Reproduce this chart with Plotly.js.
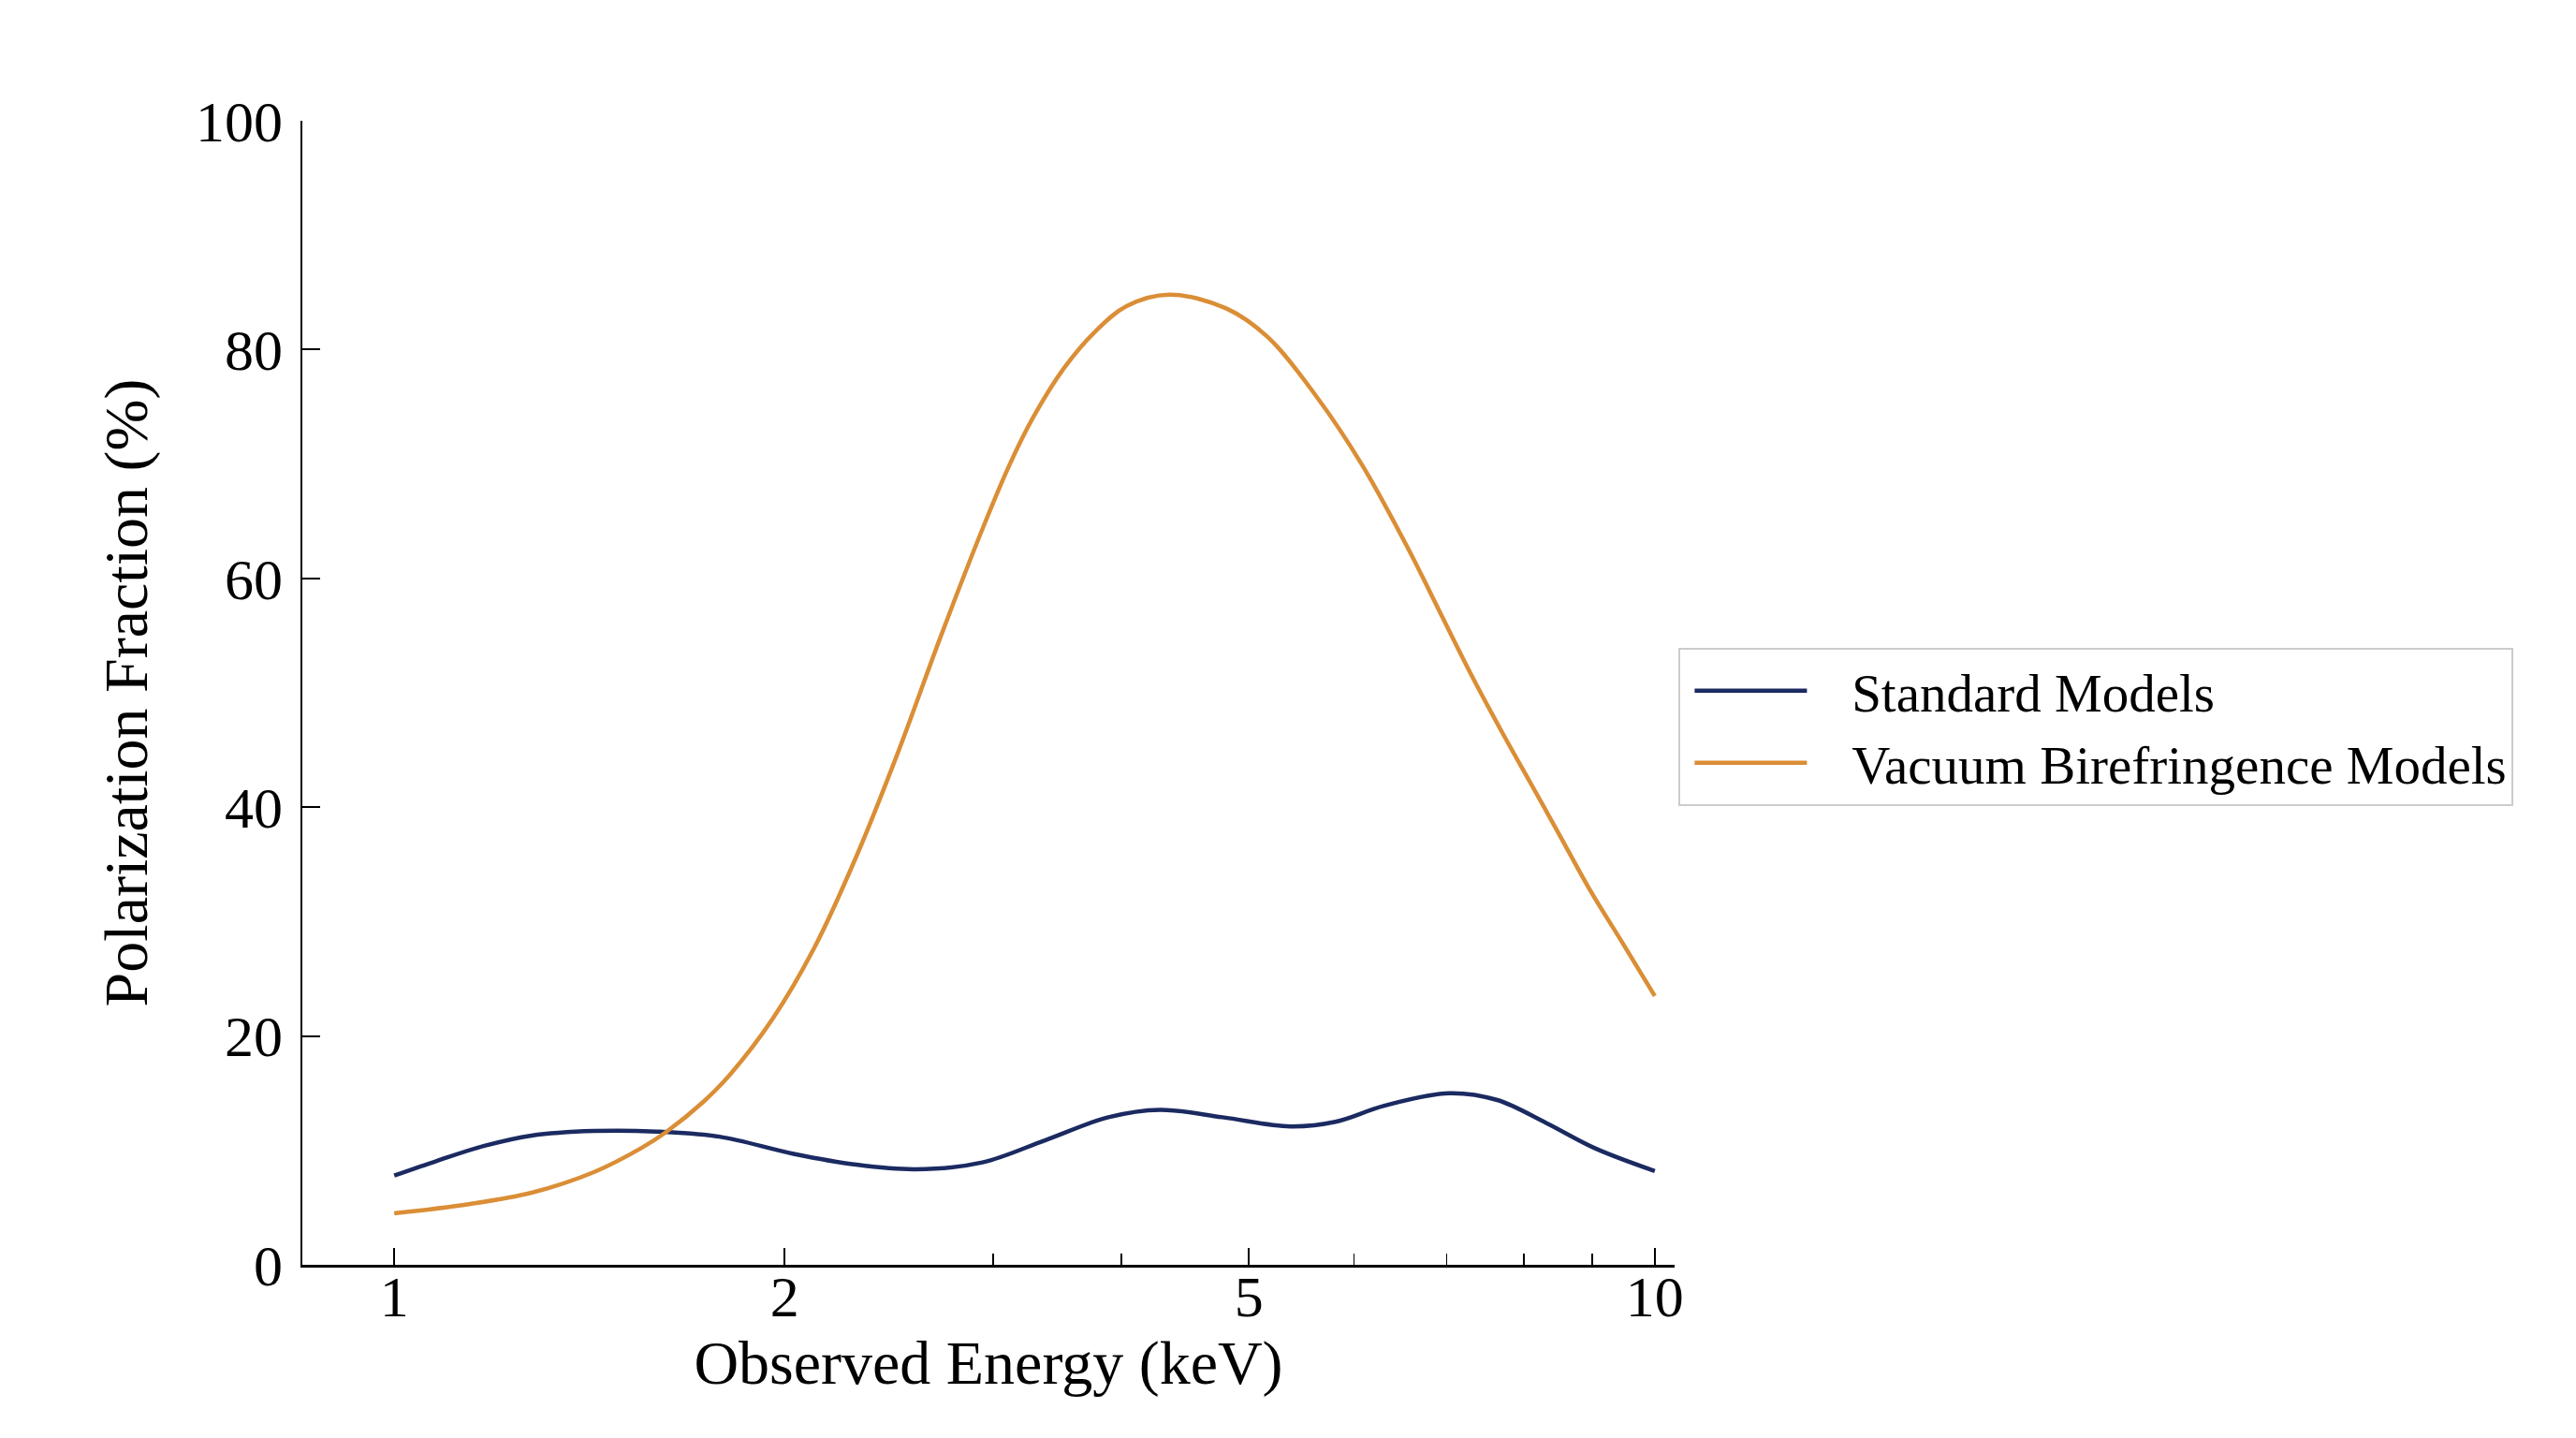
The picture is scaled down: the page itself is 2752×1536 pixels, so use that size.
<!DOCTYPE html>
<html>
<head>
<meta charset="utf-8">
<script src="https://cdn.plot.ly/plotly-3.0.1.min.js"></script>
<style>
  html, body { margin: 0; padding: 0; background: #fff; }
  #chart { width: 2752px; height: 1536px; }
</style>
</head>
<body>
<div id="chart"></div>
<script>
// values (energy in keV, fraction in %)
var stdEnergy = [1.0, 1.082, 1.179, 1.285, 1.44, 1.615, 1.811, 2.074, 2.326, 2.591, 2.928, 3.286, 3.686, 4.05, 4.54, 5.14, 5.58, 6.10, 6.87, 7.50, 8.2, 8.96, 10.0];
var stdFrac   = [7.8, 9.1, 10.4, 11.3, 11.7, 11.65, 11.2, 9.7, 8.75, 8.35, 8.95, 10.9, 12.9, 13.55, 12.9, 12.1, 12.5, 13.9, 15.0, 14.4, 12.4, 10.2, 8.2];

var vbEnergy = [1.0, 1.146, 1.285, 1.44, 1.57, 1.643, 1.761, 1.849, 1.996, 2.156, 2.326, 2.512, 2.713, 2.928, 3.076, 3.21, 3.40, 3.60, 3.81, 4.12, 4.57, 4.93, 5.39, 5.86, 6.38, 6.75, 7.15, 7.57, 7.98, 8.4, 8.89, 9.42, 10.0];
var vbFrac   = [4.5, 5.3, 6.3, 8.1, 10.2, 11.6, 14.3, 16.7, 21.5, 27.8, 35.7, 44.9, 54.9, 64.3, 69.9, 74.0, 78.4, 81.6, 83.8, 84.8, 83.6, 81.1, 75.9, 69.9, 62.5, 57.1, 51.6, 46.5, 42.0, 37.6, 32.7, 28.2, 23.5];

var seriesNames = ['Standard Models', 'Vacuum Birefringence Models'];
var seriesColors = ['#1b2a61', '#da8e36'];

// tick marks sit where the picture has them
var majorTickVals = [1, 2.04, 4.764, 10];
var majorTickText = ['1', '2', '5', '10'];
var minorTickVals = [2.987, 3.773, 5.773, 6.84, 7.87, 8.92];
var yTicks = [0, 20, 40, 60, 80, 100];

var font = 'Liberation Serif, Times New Roman, serif';
var gap = '\u00a0\u00a0\u00a0'; // room between legend line and label

var traces = [
  {
    x: stdEnergy, y: stdFrac, name: gap + seriesNames[0],
    type: 'scatter', mode: 'lines',
    line: {color: seriesColors[0], width: 4.5, shape: 'spline', smoothing: 1}
  },
  {
    x: vbEnergy, y: vbFrac, name: gap + seriesNames[1],
    type: 'scatter', mode: 'lines',
    line: {color: seriesColors[1], width: 4.5, shape: 'spline', smoothing: 1}
  }
];

var layout = {
  width: 2752, height: 1536,
  margin: {l: 323, r: 963, t: 129, b: 185},
  paper_bgcolor: '#fff', plot_bgcolor: '#fff',
  font: {family: font, size: 58, color: '#000'},
  showlegend: true,
  legend: {
    x: 1.003, xanchor: 'left', y: 0.47, yanchor: 'middle',
    bgcolor: '#fff', bordercolor: '#cccccc', borderwidth: 2,
    font: {family: font, size: 57, color: '#000'},
    itemwidth: 120, indentation: 10, tracegroupgap: 0
  },
  xaxis: {
    type: 'log', range: [-0.0729, 1.0157],
    tickmode: 'array', tickvals: majorTickVals, ticktext: majorTickText,
    ticks: 'inside', ticklen: 18, tickwidth: 2, tickcolor: '#000',
    minor: {tickmode: 'array', tickvals: minorTickVals, ticks: 'inside', ticklen: 12, tickwidth: 1.5, tickcolor: '#000'},
    showline: true, linecolor: '#000', linewidth: 2.5,
    showgrid: false, zeroline: false,
    tickfont: {family: font, size: 62},
    ticklabelstandoff: -22,
    title: {text: 'Observed Energy (keV)', font: {family: font, size: 66}, standoff: 2}
  },
  yaxis: {
    range: [0, 100],
    tickmode: 'array', tickvals: yTicks,
    ticks: 'inside', ticklen: 19, tickwidth: 2, tickcolor: '#000',
    showline: true, linecolor: '#000', linewidth: 2.5,
    showgrid: false, zeroline: false,
    tickfont: {family: font, size: 62},
    ticklabelstandoff: 6,
    title: {text: 'Polarization Fraction (%)', font: {family: font, size: 66}, standoff: 30}
  }
};

Plotly.newPlot('chart', traces, layout, {staticPlot: true});
</script>
</body>
</html>
